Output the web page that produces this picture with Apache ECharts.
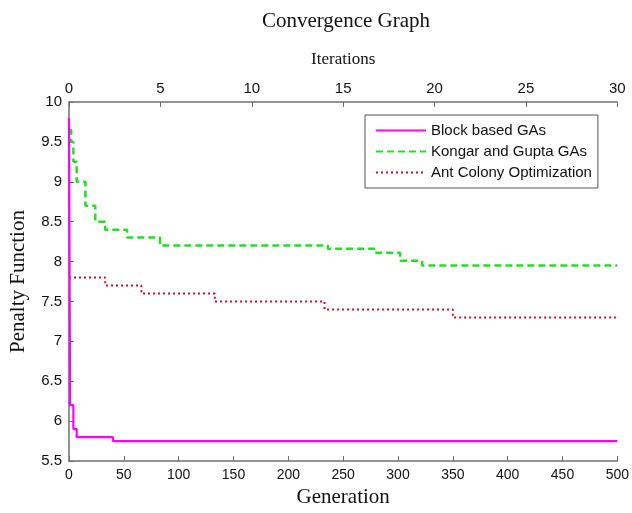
<!DOCTYPE html>
<html>
<head>
<meta charset="utf-8">
<script src="https://cdn.jsdelivr.net/npm/echarts@6/dist/echarts.min.js"></script>
<style>
  html, body { margin: 0; padding: 0; background: #fff; }
  #chart { width: 632px; height: 513px; }
</style>
</head>
<body>
<div id="chart"></div>
<script>
// generation at which each level starts, and the level
const blockGen = [0, 1, 4, 7, 40, 500];
const blockVal = [9.8, 6.2, 5.9, 5.8, 5.75, 5.75];

const kongarGen = [0, 2, 4, 7, 15, 24, 33, 53, 83, 236, 280, 302, 322, 500];
const kongarVal = [9.65, 9.5, 9.25, 9.0, 8.7, 8.5, 8.4, 8.3, 8.2, 8.16, 8.11, 8.01, 7.95, 7.95];

const antGen = [0, 33, 66, 133, 233, 350, 500];
const antVal = [7.8, 7.7, 7.6, 7.5, 7.4, 7.3, 7.3];

const seriesNames = ['Block based GAs', 'Kongar and Gupta GAs', 'Ant Colony Optimization'];

const pairs = (xs, ys) => xs.map((x, i) => [x, ys[i]]);

const axisGray = '#6e6e6e';
const serif = '"Liberation Serif", "DejaVu Serif", serif';
const sans = '"Liberation Sans", Arial, sans-serif';

const chart = echarts.init(document.getElementById('chart'));

chart.setOption({
  animation: false,
  backgroundColor: '#fff',
  title: {
    text: 'Convergence Graph',
    left: 341,
    top: 6,
    textAlign: 'center',
    textStyle: { fontFamily: serif, fontSize: 21, fontWeight: 'normal', color: '#111' }
  },
  legend: {
    orient: 'vertical',
    left: 365,
    top: 115,
    padding: [8, 6, 8, 10],
    itemGap: 6,
    itemWidth: 50,
    itemHeight: 15,
    borderColor: '#555',
    borderWidth: 1,
    borderRadius: 0,
    backgroundColor: '#fff',
    itemStyle: { opacity: 0 },
    textStyle: { fontFamily: sans, fontSize: 15, color: '#111' },
    data: seriesNames
  },
  grid: { left: 67, right: 13, top: 102, bottom: 51 },
  xAxis: [
    {
      type: 'value',
      min: 0,
      max: 500,
      interval: 50,
      position: 'bottom',
      name: 'Generation',
      nameLocation: 'middle',
      nameGap: 26,
      nameTextStyle: { fontFamily: serif, fontSize: 21, color: '#111' },
      axisLine: { show: true, lineStyle: { color: axisGray, width: 1.5 } },
      axisTick: { show: true, inside: true, length: 5, lineStyle: { color: axisGray } },
      axisLabel: { fontFamily: sans, fontSize: 14, color: '#111', margin: 7 },
      splitLine: { show: false }
    },
    {
      type: 'value',
      min: 0,
      max: 30,
      interval: 5,
      position: 'top',
      name: 'Iterations',
      nameLocation: 'middle',
      nameGap: 34,
      nameTextStyle: { fontFamily: serif, fontSize: 17, color: '#111' },
      axisLine: { show: true, lineStyle: { color: axisGray, width: 1.5 } },
      axisTick: { show: true, inside: true, length: 5, lineStyle: { color: axisGray } },
      axisLabel: { fontFamily: sans, fontSize: 15, color: '#111', margin: 6 },
      splitLine: { show: false }
    }
  ],
  yAxis: {
    type: 'value',
    min: 5.5,
    max: 10,
    interval: 0.5,
    name: 'Penalty Function',
    nameLocation: 'middle',
    nameGap: 40,
    nameRotate: 90,
    nameTextStyle: { fontFamily: serif, fontSize: 21, color: '#111' },
    axisLine: { show: true, lineStyle: { color: axisGray, width: 1.5 } },
    axisTick: { show: true, inside: true, length: 5, lineStyle: { color: axisGray } },
    axisLabel: { fontFamily: sans, fontSize: 15, color: '#111', margin: 7 },
    splitLine: { show: false }
  },
  series: [
    {
      name: seriesNames[0],
      type: 'line',
      step: 'end',
      showSymbol: false,
      symbol: 'none',
      z: 4,
      color: '#ff00ff',
      lineStyle: { color: '#ff00ff', width: 2.2, type: 'solid' },
      data: pairs(blockGen, blockVal)
    },
    {
      name: seriesNames[1],
      type: 'line',
      step: 'end',
      showSymbol: false,
      symbol: 'none',
      z: 3,
      color: '#22e022',
      lineStyle: { color: '#22e022', width: 2.5, type: [7, 4] },
      data: pairs(kongarGen, kongarVal)
    },
    {
      name: seriesNames[2],
      type: 'line',
      step: 'end',
      showSymbol: false,
      symbol: 'none',
      z: 2,
      color: '#c8102e',
      lineStyle: { color: '#c8102e', width: 2, type: [2, 3] },
      data: pairs(antGen, antVal)
    }
  ]
});
</script>
</body>
</html>
